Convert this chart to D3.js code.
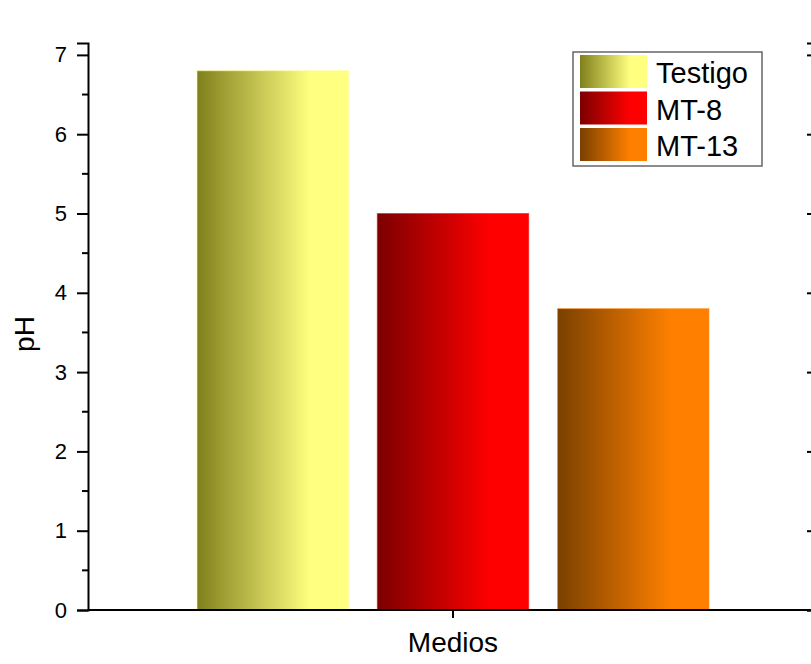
<!DOCTYPE html>
<html>
<head>
<meta charset="utf-8">
<script src="https://cdn.jsdelivr.net/npm/d3@7"></script>
<style>
  html, body { margin: 0; padding: 0; background: #fff; }
  svg { display: block; font-family: "Liberation Sans", Arial, sans-serif; }
</style>
</head>
<body>
<svg id="chart" width="811" height="664"></svg>
<script>
// pH of each culture medium
const groups = ["Medios"];
const series = ["Testigo", "MT-8", "MT-13"];
const phValues = [6.8, 5.0, 3.8];
const yTicks = [0, 1, 2, 3, 4, 5, 6, 7];
const yMinorTicks = [0.5, 1.5, 2.5, 3.5, 4.5, 5.5, 6.5];
// gradient end colours (dark on the left, light on the right)
const darkColors = ["#80801c", "#7c0000", "#7a4000"];
const lightColors = ["#ffff80", "#ff0000", "#ff8000"];

const svg = d3.select("#chart");
const m = { left: 88, top: 43, right: 818, bottom: 610 };

const y = d3.scaleLinear().domain([0, 7.15]).range([m.bottom, m.top]);
const x0 = d3.scaleBand().domain(groups).range([m.left, m.right])
  .paddingInner(0).paddingOuter(0.213);
const x1 = d3.scaleBand().domain(series).range([0, x0.bandwidth()])
  .paddingInner(0.16);

// horizontal gradients for the bars
const defs = svg.append("defs");
series.forEach((s, i) => {
  const g = defs.append("linearGradient")
    .attr("id", "grad" + i)
    .attr("x1", "0%").attr("x2", "100%").attr("y1", "0%").attr("y2", "0%");
  g.append("stop").attr("offset", "0%").attr("stop-color", darkColors[i]);
  g.append("stop").attr("offset", "75%").attr("stop-color", lightColors[i]);
  g.append("stop").attr("offset", "100%").attr("stop-color", lightColors[i]);
});

// bars
const data = series.map((s, i) => ({ s, i, v: phValues[i] }));
groups.forEach(gname => {
  svg.append("g").attr("transform", `translate(${x0(gname)},0)`)
    .selectAll("rect").data(data).join("rect")
    .attr("x", d => x1(d.s))
    .attr("y", d => y(d.v))
    .attr("width", x1.bandwidth())
    .attr("height", d => y(0) - y(d.v))
    .attr("fill", d => `url(#grad${d.i})`)
    .attr("stroke", d => lightColors[d.i])
    .attr("stroke-opacity", 0.5)
    .attr("stroke-width", 1);
});

// left axis
const yAxis = d3.axisLeft(y).tickValues(yTicks).tickFormat(d3.format("d"))
  .tickSize(11).tickPadding(10);
const gy = svg.append("g").attr("transform", `translate(${m.left},0)`).call(yAxis)
  .attr("font-size", null).attr("font-family", null);
gy.select(".domain").attr("stroke", "#000").attr("stroke-width", 2);
gy.selectAll(".tick line").attr("stroke", "#000").attr("stroke-width", 2);
gy.selectAll(".tick text").style("font-size", "22px").attr("fill", "#000");
gy.selectAll(".minor").data(yMinorTicks).join("line")
  .attr("class", "minor")
  .attr("x1", -6).attr("x2", 0)
  .attr("y1", d => y(d)).attr("y2", d => y(d))
  .attr("stroke", "#000").attr("stroke-width", 2);

// right axis (inward ticks)
const yAxisR = d3.axisRight(y).tickValues(yTicks).tickFormat("")
  .tickSize(-11);
const gyr = svg.append("g").attr("transform", `translate(${m.right},0)`).call(yAxisR);
gyr.select(".domain").attr("stroke", "#000").attr("stroke-width", 2);
gyr.selectAll(".tick line").attr("stroke", "#000").attr("stroke-width", 2);

// bottom axis
const xAxis = d3.axisBottom(x0).tickSize(8).tickFormat("");
const gx = svg.append("g").attr("transform", `translate(0,${m.bottom})`).call(xAxis);
gx.select(".domain").attr("stroke", "#000").attr("stroke-width", 2)
  .attr("d", `M${m.left},0H${m.right}`);
gx.selectAll(".tick line").attr("stroke", "#000").attr("stroke-width", 2);

// axis titles
svg.append("text")
  .attr("x", x0("Medios") + x0.bandwidth() / 2).attr("y", 652)
  .attr("text-anchor", "middle").style("font-size", "28px").attr("fill", "#000")
  .text("Medios");
svg.append("text")
  .attr("transform", `translate(34,334) rotate(-90)`)
  .attr("text-anchor", "middle").style("font-size", "28px").attr("fill", "#000")
  .text("pH");

// legend
const lg = svg.append("g").attr("transform", "translate(573,52)");
lg.append("rect").attr("width", 189).attr("height", 114)
  .attr("fill", "#fff").attr("stroke", "#666").attr("stroke-width", 1.5);
const rows = lg.selectAll("g.row").data(data).join("g")
  .attr("class", "row")
  .attr("transform", d => `translate(7,${3 + d.i * 36.5})`);
rows.append("rect").attr("width", 67).attr("height", 33)
  .attr("fill", d => `url(#grad${d.i})`);
rows.append("text").attr("x", 76).attr("y", 28)
  .style("font-size", "29px").attr("fill", "#000")
  .text(d => d.s);
</script>
</body>
</html>
